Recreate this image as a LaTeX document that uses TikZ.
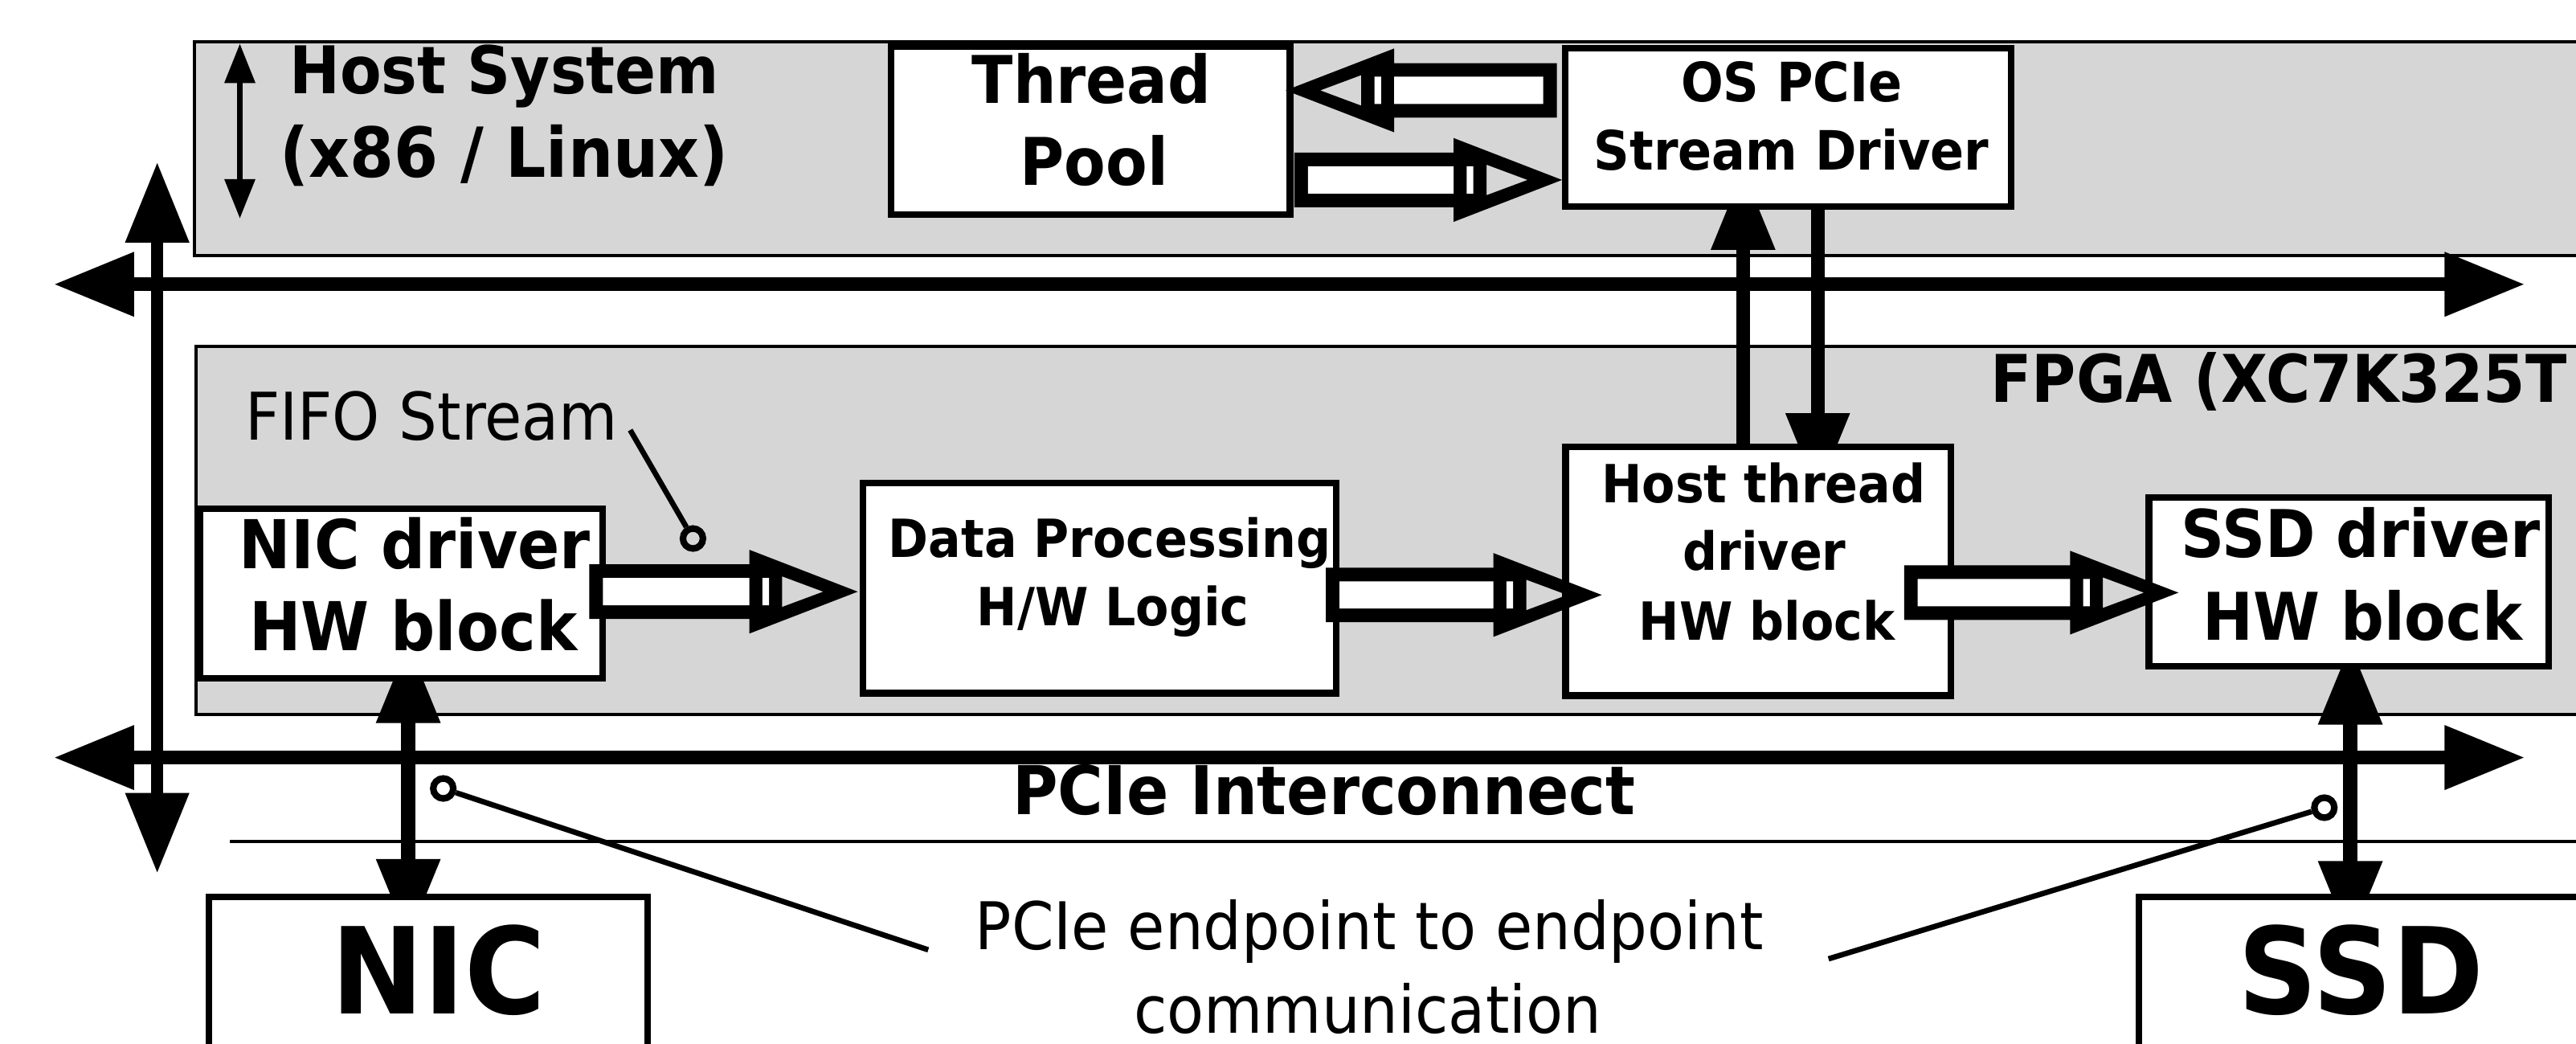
\documentclass[tikz,border=0pt]{standalone}
\usepackage{fontspec}
\setmainfont{DejaVu Sans}[FakeStretch=0.92]
\usetikzlibrary{arrows.meta,calc}
\definecolor{regiongray}{RGB}{214,214,214}
\pgfdeclarelayer{back}
\pgfdeclarelayer{mid}
\pgfsetlayers{back,mid,main}
% hollow (outlined) stream arrow from #1 (shaft start) to #2 (tip)
\newcommand\hollowarrow[2]{%
  \fill[black,even odd rule] let \p1=(#1), \p2=(#2), \n1={(\x2-\x1)/abs(\x2-\x1)} in
    (\x1,\y2+16.6pt) -- ({\x2-(\n1)*66pt},\y2+16.6pt) -- ({\x2-(\n1)*66pt},\y2+25.5pt) -- (\x2,\y2)
    -- ({\x2-(\n1)*66pt},\y2-25.5pt) -- ({\x2-(\n1)*66pt},\y2-16.6pt) -- (\x1,\y2-16.6pt) -- cycle
    ({\x2-(\n1)*46pt},\y2+9.3pt) -- ({\x2-(\n1)*21pt},\y2) -- ({\x2-(\n1)*46pt},\y2-9.3pt) -- cycle;
  \fill[white] let \p1=(#1), \p2=(#2), \n1={(\x2-\x1)/abs(\x2-\x1)} in
    ({\x1+(\n1)*8.3pt},\y2+8.3pt) rectangle ({\x2-(\n1)*66pt},\y2-8.3pt)
    ({\x2-(\n1)*58pt},\y2+8.3pt) rectangle ({\x2-(\n1)*54pt},\y2-8.3pt);
}
\begin{document}
\begin{tikzpicture}[x=1pt,y=-1pt,
  region/.style={draw=black, fill=regiongray, line width=2pt, inner sep=0pt, outer sep=0pt},
  box/.style={draw=black, fill=white, line width=4pt, inner sep=0pt},
  lb/.style={inner sep=0pt, anchor=base},
  lbw/.style={inner sep=0pt, anchor=base west},
  bA/.style={font=\fontsize{40pt}{48pt}\selectfont\bfseries},
  bAA/.style={font=\fontsize{42pt}{50pt}\selectfont\bfseries},
  bB/.style={font=\fontsize{41pt}{49pt}\selectfont\bfseries},
  bC/.style={font=\fontsize{33pt}{40pt}\selectfont\bfseries},
  bD/.style={font=\fontsize{32pt}{39pt}\selectfont\bfseries},
  bE/.style={font=\fontsize{73pt}{88pt}\selectfont\bfseries},
  rA/.style={font=\fontsize{40pt}{48pt}\selectfont},
  bus/.style={line width=8.5pt, arrows={Triangle[length=49pt,width=37pt]-Triangle[length=49pt,width=37pt]}},
  fat/.style={line width=8.2pt, arrows={-Triangle[length=49pt,width=37pt]}},
  thinarrow/.style={line width=3.5pt, arrows={Triangle[length=24pt,width=18pt]-Triangle[length=24pt,width=18pt]}},
  callout/.style={line width=3.3pt},
  ring/.style={circle, draw=black, line width=4pt, minimum size=12.2pt, inner sep=0pt}
]
\useasboundingbox (0,0) rectangle (1568,635);

% regions
\begin{pgfonlayer}{back}
  \node[region, minimum width=1581.6pt, minimum height=130.3pt] (host) at (909.2,90.45) {};
  \node[region, minimum width=1580.6pt, minimum height=224pt] (fpga) at (909.7,322.8) {};
  \coordinate (pl) at (140,512.2);
  \coordinate (pr) at (1700,512.2);
  \draw[line width=2pt] (pl) -- (pr);
\end{pgfonlayer}

% boxes
\node[box, minimum width=242.8pt, minimum height=101.9pt] (tp) at (663.8,79.45) {};
\node[box, minimum width=271.4pt, minimum height=96.2pt] (os) at (1088.5,77.4) {};
\node[box, minimum width=244.9pt, minimum height=103.1pt] (nd) at (244.25,361.15) {};
\node[box, minimum width=288.4pt, minimum height=127.9pt] (dp) at (669.3,357.85) {};
\node[box, minimum width=234.4pt, minimum height=151.5pt] (ht) at (1070.2,347.55) {};
\node[box, minimum width=243.4pt, minimum height=102.7pt] (sd) at (1429.7,354.05) {};
\node[box, minimum width=267pt, minimum height=154.3pt] (nic) at (260.5,622.85) {};
\node[box, minimum width=398pt, minimum height=154.3pt] (ssd) at (1501,622.85) {};

% texts
\node[lb,bA] (hs1) at (307,57) {Host System};
\node[lb,bAA] (hs2) at (307,107.6) {(x86 / Linux)};
\node[lb,bA] (tp1) at (664.5,62.8) {Thread};
\node[lb,bA] (tp2) at (666,112.5) {Pool};
\node[lb,bC] (os1) at (1090.5,62) {OS PCIe};
\node[lb,bC] (os2) at (1090.5,103.5) {Stream Driver};
\node[lbw,bA] (fp) at (1211.5,245) {FPGA (XC7K325T};
\node[lbw,rA] (ff) at (149,268) {FIFO Stream};
\node[lb,bB] (nd1) at (252.5,346) {NIC driver};
\node[lb,bB] (nd2) at (251.5,396) {HW block};
\node[lb,bD] (dp1) at (675.5,339) {Data Processing};
\node[lb,bD] (dp2) at (677.5,380.5) {H/W Logic};
\node[lb,bD] (ht1) at (1073.5,305.7) {Host thread};
\node[lb,bD] (ht2) at (1074,347) {driver};
\node[lb,bD] (ht3) at (1075.5,389.6) {HW block};
\node[lb,bA] (sd1) at (1437,339) {SSD driver};
\node[lb,bA] (sd2) at (1438,389.7) {HW block};
\node[lb,bB] (pi) at (806,495.5) {PCIe Interconnect};
\node[lb,rA] (pe1) at (833.5,578) {PCIe endpoint to endpoint};
\node[lb,rA] (pe2) at (832.5,628.5) {communication};
\node[lb,bE] (nict) at (267,617) {NIC};
\node[lb,bE] (ssdt) at (1437,617) {SSD};

% thick connectors (behind boxes)
\coordinate (ux) at (1061,0);
\coordinate (dx) at (1106.4,0);
\coordinate (nx) at (248.5,0);
\coordinate (sx) at (1430.6,0);
\coordinate (bl1) at (32.6,173);
\coordinate (br1) at (1537,173);
\coordinate (bl2) at (32.6,461);
\coordinate (br2) at (1537,461);
\coordinate (vt) at (95.7,98.6);
\coordinate (vb) at (95.7,531.5);
\coordinate (sa) at (146,26.5);
\coordinate (sb) at (146,133);
\begin{pgfonlayer}{mid}
  \draw[bus] (bl1) -- (br1);
  \draw[bus] (bl2) -- (br2);
  \draw[bus, line width=7.6pt] (vt) -- (vb);
  \draw[fat] (ht.north -| ux) -- ($(os.south -| ux)+(0,-24.5)$);
  \draw[fat] (os.south -| dx) -- ($(ht.north -| dx)+(0,30.6)$);
  \draw[bus] ($(nd.south -| nx)+(0,-23.7)$) -- ($(nic.north -| nx)+(0,28)$);
  \draw[bus] ($(sd.south -| sx)+(0,-15.4)$) -- ($(ssd.north -| sx)+(0,29.3)$);
\end{pgfonlayer}
\draw[thinarrow] (sa) -- (sb);

% hollow stream arrows
\hollowarrow{$(nd.east)+(-10,0)$}{$(dp.west)+(-1,2.2)$}
\hollowarrow{$(dp.east)+(-8.5,0)$}{$(ht.west)+(24,14.5)$}
\hollowarrow{$(ht.east)+(-30.4,0)$}{$(sd.west)+(20,6.6)$}
\hollowarrow{$(os.west)+(-3.2,0)$}{$(tp.east)+(-4.6,-24.45)$}
\hollowarrow{$(tp.east)+(0.6,0)$}{$(os.west)+(0,32.1)$}

% callouts
\node[ring] (cf) at (421.8,327.7) {};
\node[ring] (c1) at (269.8,479.8) {};
\node[ring] (c2) at (1414.8,491.5) {};
\coordinate (fe) at (383.6,261.7);
\coordinate (e1) at (565,578);
\coordinate (e2) at (1113,583.5);
\draw[callout] (fe) -- (cf);
\draw[callout] (e1) -- (c1);
\draw[callout] (e2) -- (c2);
\end{tikzpicture}
\end{document}
